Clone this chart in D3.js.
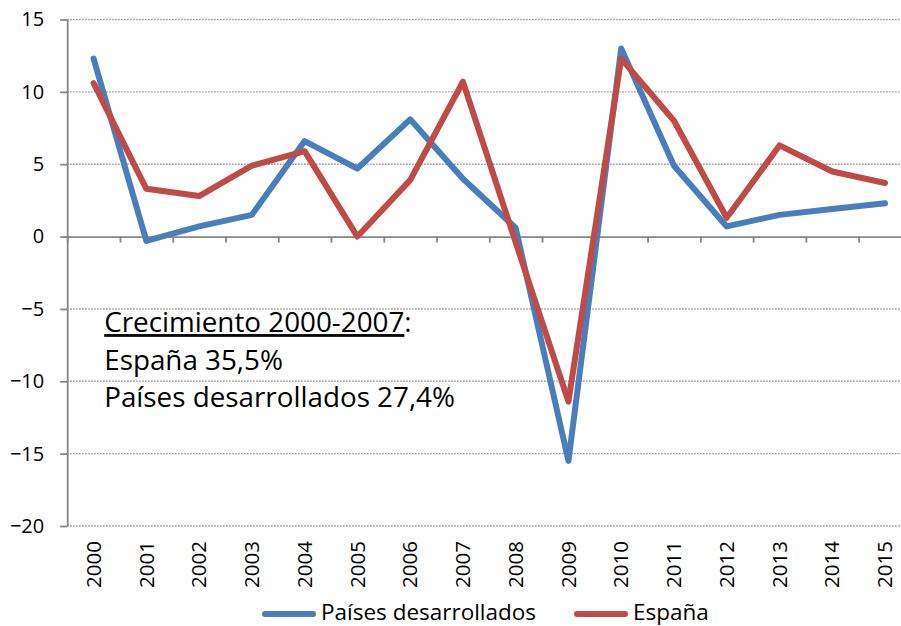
<!DOCTYPE html>
<html>
<head>
<meta charset="utf-8">
<script src="https://cdn.jsdelivr.net/npm/d3@7"></script>
<style>
  body { margin: 0; background: #fff; }
  text { font-family: "Open Sans", "Noto Sans", sans-serif; fill: #000; }
</style>
</head>
<body>
<svg id="chart" width="901" height="626"></svg>
<script>
var years = ["2000","2001","2002","2003","2004","2005","2006","2007",
             "2008","2009","2010","2011","2012","2013","2014","2015"];
var desarrollados = [12.3, -0.3, 0.7, 1.5, 6.6, 4.7, 8.1, 4.0,
                     0.6, -15.5, 13.0, 4.9, 0.7, 1.5, 1.9, 2.3];
var espana = [10.6, 3.3, 2.8, 4.9, 5.9, 0.0, 3.9, 10.7,
              -0.4, -11.4, 12.3, 8.0, 1.3, 6.3, 4.5, 3.7];
var yTicks = [-20, -15, -10, -5, 0, 5, 10, 15];
var seriesNames = ["Países desarrollados", "España"];
var colors = ["#4A7EBB", "#BE4B48"];
var noteLines = ["España 35,5%", "Países desarrollados 27,4%"];

var svg = d3.select("#chart");
var plotLeft = 67.2, plotRight = 911.4, plotTop = 19.5, plotBottom = 526;

var x = d3.scaleBand().domain(years).range([plotLeft, plotRight]);
var xEdge = d3.scaleLinear().domain([0, years.length]).range([plotLeft, plotRight]);
var y = d3.scaleLinear().domain([-20, 15]).range([plotBottom, plotTop]);

// dotted gridlines
svg.append("g")
  .selectAll("line")
  .data(yTicks.filter(function(d) { return d != 0; }))
  .enter().append("line")
  .attr("x1", plotLeft).attr("x2", 901)
  .attr("y1", function(d) { return y(d); })
  .attr("y2", function(d) { return y(d); })
  .style("stroke", "#8c8c8c")
  .style("stroke-width", 1.4)
  .style("stroke-dasharray", "1.4,1.6");

// y axis
var yAxis = svg.append("g")
  .attr("transform", "translate(" + plotLeft + ",0)")
  .call(d3.axisLeft(y).tickValues(yTicks).tickSize(7).tickSizeOuter(0).tickPadding(16));
yAxis.selectAll("text").style("font-size", "20px").style("font-family", "Open Sans");

// x axis at zero, ticks between categories
var xAxis = svg.append("g")
  .attr("transform", "translate(0," + y(0) + ")")
  .call(d3.axisBottom(xEdge).ticks(years.length).tickFormat("").tickSize(6).tickSizeOuter(0));

svg.selectAll(".domain, .tick line")
  .style("stroke", "#868686")
  .style("stroke-width", 1.8);

// year labels along the bottom
svg.append("g")
  .selectAll("text")
  .data(years)
  .enter().append("text")
  .attr("transform", function(d) {
    return "translate(" + (x(d) + x.bandwidth() / 2) + "," + (plotBottom + 15) + ") rotate(-90)";
  })
  .attr("dy", ".35em")
  .style("text-anchor", "end")
  .style("font-size", "20.5px")
  .text(function(d) { return d; });

// lines
var line = d3.line()
  .x(function(d, i) { return x(years[i]) + x.bandwidth() / 2; })
  .y(function(d) { return y(d); });

[desarrollados, espana].forEach(function(s, i) {
  svg.append("path")
    .datum(s)
    .attr("d", line)
    .style("fill", "none")
    .style("stroke", colors[i])
    .style("stroke-width", 6)
    .style("stroke-linejoin", "round")
    .style("stroke-linecap", "round");
});

// annotation
var note = svg.append("text")
  .attr("x", plotLeft + 37)
  .attr("y", y(-6.6))
  .style("font-size", "27.8px");
note.append("tspan").style("text-decoration", "underline").text("Crecimiento 2000-2007");
note.append("tspan").text(":");
noteLines.forEach(function(t, i) {
  svg.append("text")
    .attr("x", plotLeft + 37)
    .attr("y", y(-6.6) + 37.5 * (i + 1))
    .style("font-size", "27.8px")
    .text(t);
});

// legend
var legendX = [265, 577];
var legend = svg.append("g")
  .selectAll("g")
  .data(seriesNames)
  .enter().append("g")
  .attr("transform", function(d, i) { return "translate(" + legendX[i] + ",614)"; });

legend.append("line")
  .attr("x1", 0).attr("x2", 48)
  .style("stroke", function(d, i) { return colors[i]; })
  .style("stroke-width", 6)
  .style("stroke-linecap", "round");

legend.append("text")
  .attr("x", 56)
  .attr("y", 6)
  .style("font-size", "22.5px")
  .text(function(d) { return d; });
</script>
</body>
</html>
